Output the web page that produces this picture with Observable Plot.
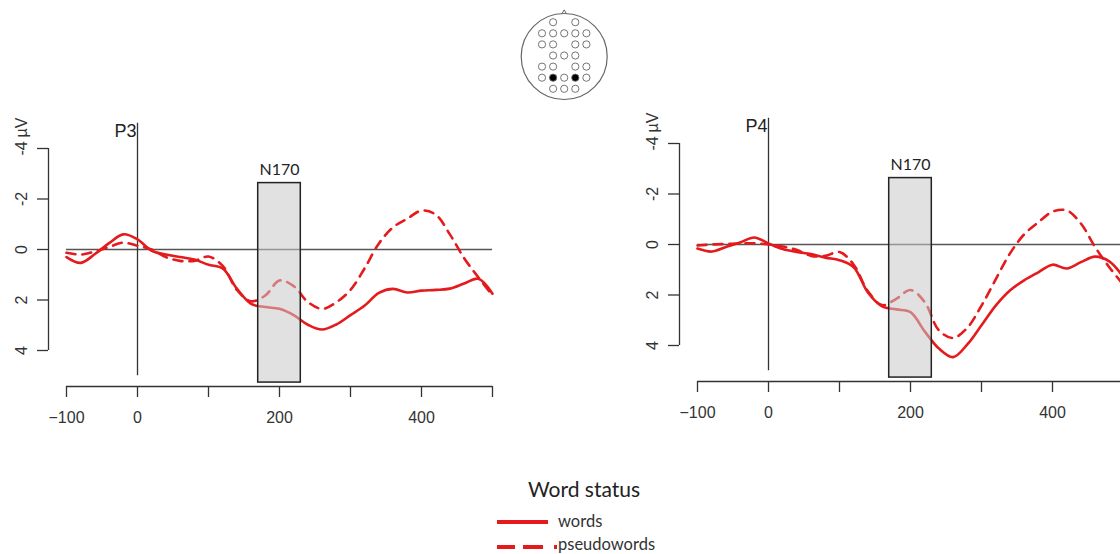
<!DOCTYPE html>
<html><head><meta charset="utf-8">
<script src="https://cdn.jsdelivr.net/npm/d3@7"></script>
<script src="https://cdn.jsdelivr.net/npm/@observablehq/plot@0.6"></script>
<style>
html,body{margin:0;padding:0;background:#fff;}
#root{position:relative;width:1120px;height:554px;overflow:hidden;background:#fff;}
#root > svg, #root > div{position:absolute;}
</style></head><body><div id="root"></div>
<script>
// ---- data ----
const times = [-100,-80,-60,-40,-20,0,20,40,60,80,100,120,140,160,180,200,220,240,260,280,300,320,340,360,380,400,420,440,460,480,500];
const p3Words  = [0.30,0.53,0.18,-0.25,-0.60,-0.40,0.05,0.20,0.30,0.40,0.60,0.75,1.55,2.15,2.28,2.35,2.60,2.98,3.17,2.97,2.60,2.22,1.72,1.56,1.70,1.63,1.60,1.55,1.35,1.16,1.75];
const p3Pseudo = [0.13,0.20,0.08,-0.10,-0.27,-0.15,0.00,0.30,0.45,0.45,0.28,0.65,1.60,2.05,1.82,1.23,1.45,2.08,2.35,2.09,1.60,0.74,-0.24,-0.88,-1.22,-1.54,-1.38,-0.60,0.34,1.10,1.82];
const p4Words  = [0.16,0.28,0.10,-0.08,-0.28,-0.04,0.18,0.30,0.38,0.52,0.62,0.90,1.90,2.45,2.57,2.68,3.44,4.12,4.46,3.96,3.20,2.42,1.82,1.42,1.10,0.80,0.95,0.70,0.48,0.67,1.30];
const p4Pseudo = [0.04,0.00,-0.02,-0.04,-0.05,0.00,0.08,0.22,0.45,0.45,0.30,0.80,1.85,2.40,2.15,1.80,2.28,3.40,3.70,3.30,2.42,1.38,0.36,-0.40,-0.88,-1.30,-1.35,-0.83,0.10,0.90,1.60];
const channels = ["P3", "P4"];
const conditions = ["words", "pseudowords"];
const tickValuesX = [-100, 0, 100, 200, 300, 400, 500];
const tickLabelsX = ["\u2212100", "0", "", "200", "", "400", ""];
const tickValuesY = [-4, -2, 0, 2, 4];
const tickLabelsY = ["-4", "-2", "0", "2", "4"];
const unitLabel = "\u00b5V";
const windowLabel = "N170";
const windowRange = [170, 230];       // ms
const windowAmp = [-2.63, 5.27];      // µV extent of the shaded box
const legendTitle = "Word status";
// electrode montage (row / column index), highlighted P3 & P4
const elecRow = [0,0, 1,1,1,1,1, 2,2,2,2, 3,3,3, 4,4,4,4, 5,5,5,5,5, 6,6,6];
const elecCol = [-1,1, -2,-1,0,1,2, -2,-1,1,2, -1,0,1, -2,-1,1,2, -2,-1,0,1,2, -1,0,1];
const elecActive = [0,0, 0,0,0,0,0, 0,0,0,0, 0,0,0, 0,0,0,0, 0,1,0,1,0, 0,0,0];

// ---- layout ----
const RED = "#e41a1c";
const PX_PER_MS = 0.71, PX_PER_UV = 25.25;
const root = document.getElementById("root");

function panel(channel, words, pseudo) {
  const W = 520, H = 440, ml = 48, zeroX = 137, zeroY = 249, axisPx = 386;
  const xDomain = [(ml - zeroX) / PX_PER_MS, (W - zeroX) / PX_PER_MS];
  const yDomain = [-zeroY / PX_PER_UV, (axisPx - zeroY) / PX_PER_UV];
  const wordsData = times.map((t, i) => ({t, v: words[i]}));
  const pseudoData = times.map((t, i) => ({t, v: pseudo[i]}));
  return Plot.plot({
    width: W, height: H,
    marginLeft: ml, marginRight: 0, marginTop: 0, marginBottom: H - axisPx,
    x: {domain: xDomain},
    y: {domain: yDomain, reverse: true},
    style: {fontFamily: "'Liberation Sans', Arial, sans-serif", fontSize: "16px", color: "#333", background: "transparent", overflow: "visible"},
    marks: [
      Plot.ruleY([0], {x1: tickValuesX[0], x2: tickValuesX[tickValuesX.length - 1], stroke: "#555", strokeWidth: 1.3}),
      Plot.ruleX([0], {y1: -5, y2: 5, stroke: "#333", strokeWidth: 1.3}),
      Plot.line(wordsData, {x: "t", y: "v", stroke: RED, strokeWidth: 2.6, curve: "catmull-rom"}),
      Plot.line(pseudoData, {x: "t", y: "v", stroke: RED, strokeWidth: 2.6, strokeDasharray: "9,7", curve: "catmull-rom"}),
      Plot.rect([0], {x1: windowRange[0], x2: windowRange[1], y1: windowAmp[0], y2: windowAmp[1], fill: "#c8c8c8", fillOpacity: 0.55, stroke: "#222", strokeWidth: 1.5}),
      Plot.text([windowLabel], {x: (windowRange[0] + windowRange[1]) / 2, y: -3.15, text: d => d, fontFamily: "Lato, 'Open Sans', sans-serif", fontSize: 16, fill: "#222"}),
      Plot.text([channel], {x: 0, y: -4.67, text: d => d, textAnchor: "end", dx: -1, fontSize: 18, fill: "#222"}),
      Plot.ruleY([yDomain[1]], {x1: tickValuesX[0], x2: tickValuesX[tickValuesX.length - 1], stroke: "#333", strokeWidth: 1.3}),
      Plot.ruleX([xDomain[0]], {y1: tickValuesY[0], y2: tickValuesY[tickValuesY.length - 1], stroke: "#333", strokeWidth: 1.3}),
      Plot.axisX(tickValuesX, {anchor: "bottom", tickSize: 11, tickPadding: 14, label: null, strokeWidth: 1.3,
        tickFormat: d => tickLabelsX[tickValuesX.indexOf(d)]}),
      Plot.axisY(tickValuesY, {anchor: "left", tickSize: 11, label: null, strokeWidth: 1.3, tickFormat: () => ""}),
      Plot.text(tickValuesY, {x: xDomain[0], y: d => d, text: (d, i) => tickLabelsY[i], rotate: -90, dx: -27, fill: "#333"}),
      Plot.text([unitLabel], {x: xDomain[0], y: tickValuesY[0], text: d => d, rotate: -90, dx: -27, dy: -21, fill: "#333"})
    ]
  });
}

function head() {
  const W = 130, H = 110, cx = 63.7, top = 21.7, step = 11.1;
  const electrodes = elecRow.map((r, i) => ({row: r, col: elecCol[i], active: elecActive[i]}));
  return Plot.plot({
    width: W, height: H, margin: 0,
    x: {domain: [-cx / step, (W - cx) / step], axis: null},
    y: {domain: [-top / step, (H - top) / step], reverse: true, axis: null},
    style: {background: "transparent", overflow: "visible"},
    marks: [
      Plot.dot([{col: 0, row: -0.41}], {x: "col", y: "row", symbol: "triangle", r: 5, fill: "white", stroke: "#666", strokeWidth: 1}),
      Plot.dot([{col: 0, row: 3.09}], {x: "col", y: "row", r: 43, fill: "white", stroke: "#666", strokeWidth: 1.2}),
      Plot.dot(electrodes, {x: "col", y: "row", r: 3.6, fill: d => d.active ? "black" : "white", stroke: "#666", strokeWidth: 0.9})
    ]
  });
}

const p3 = panel(channels[0], p3Words, p3Pseudo);
p3.style.left = "0px"; p3.style.top = "0px";
root.appendChild(p3);
const p4 = panel(channels[1], p4Words, p4Pseudo);
p4.style.left = "631px"; p4.style.top = "-5px";
root.appendChild(p4);
const hd = head();
hd.style.left = "500px"; hd.style.top = "0px";
root.appendChild(hd);

// legend
const ns = "http://www.w3.org/2000/svg";
const leg = document.createElementNS(ns, "svg");
leg.setAttribute("width", 240); leg.setAttribute("height", 94);
leg.style.left = "480px"; leg.style.top = "460px";
leg.innerHTML = `
  <text x="104" y="37" text-anchor="middle" font-family="Lato, 'Open Sans', sans-serif" font-size="21" fill="#222">${legendTitle}</text>
  <line x1="17" x2="68" y1="62" y2="62" stroke="${RED}" stroke-width="4"/>
  <text x="78" y="67" font-family="Lato, 'Open Sans', sans-serif" font-size="16.5" fill="#333">${conditions[0]}</text>
  <line x1="17" x2="77" y1="87" y2="87" stroke="${RED}" stroke-width="4" stroke-dasharray="18,8,20,11,3,100"/>
  <text x="78" y="90" font-family="Lato, 'Open Sans', sans-serif" font-size="16.5" fill="#333">${conditions[1]}</text>`;
root.appendChild(leg);
</script></body></html>
